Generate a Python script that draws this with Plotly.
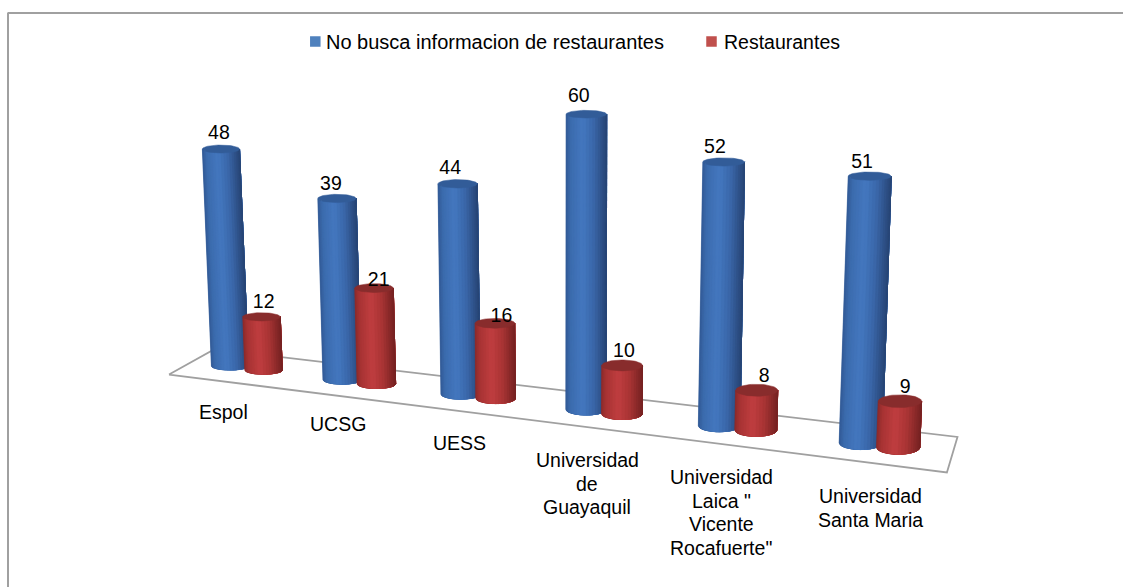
import numpy as np
import plotly.graph_objects as go

categories = ["Espol", "UCSG", "UESS", "Universidad<br>de<br>Guayaquil",
              "Universidad<br>Laica \"<br>Vicente<br>Rocafuerte\"", "Universidad<br>Santa Maria"]
no_busca = [48, 39, 44, 60, 52, 51]
restaurantes = [12, 21, 16, 10, 8, 9]
series_names = ["No busca informacion de restaurantes", "Restaurantes"]

# label nudges (screen units) - style only
BLUE_LABEL_OFF = [(-2, -14.5), (-6, -13.3), (-7.4, -14.2), (-7.5, -17.2), (-8.7, -13.5), (-7.7, -13.5)]
RED_LABEL_OFF = [(2.2, -13.6), (4.7, -7.2), (6.6, -6.3), (1.8, -13.1), (7.6, -13), (5.2, -12.7)]
CAT_LABEL_POS = [(223, 412), (338, 424), (459, 443), (587, 460), (721, 477), (870, 496)]
FONT = "Liberation Sans"
FS = 19.5
LINE_H = 23.5
BLUE_K = 4.52
RED_K = 4.4

# Perspective camera of the chart floor: s = position along category axis, h = depth term
C = -0.0271
def project(s, h, v, k=4.5):
    s, h, v = np.asarray(s, float), np.asarray(h, float), np.asarray(v, float)
    w = 1 + C*s + h
    X = (230 + 102.8*s + 1137*h)/w
    Y = (366 + 3.36*s - 166*h)/w
    lift = k*v/w
    return X + lift*(X-577)/8300, Y - lift, w

fig = go.Figure()

def poly(xs, ys, color):
    fig.add_trace(go.Scatter(x=xs, y=ys, mode="lines", fill="toself", fillcolor=color,
                             line=dict(color=color, width=0.5),
                             hoverinfo="skip", showlegend=False))

def mix(stops, u):
    pos = [p for p, _ in stops]
    cols = np.array([c for _, c in stops], float)
    return "rgb(%d,%d,%d)" % tuple(np.interp(u, pos, cols[:, k]) for k in range(3))

BLUE_STOPS = [(0, (50, 90, 150)), (0.12, (60, 108, 174)), (0.42, (68, 120, 192)), (0.7, (58, 102, 168)), (1, (40, 70, 118))]
RED_STOPS = [(0, (140, 42, 42)), (0.12, (168, 52, 52)), (0.42, (192, 62, 64)), (0.7, (168, 52, 52)), (1, (118, 34, 34))]
BLUE_TOP = (50, 92, 152)
RED_TOP = (136, 44, 44)

def cylinder(s, v, k, stops, top):
    bx, by, w = project(s, 0, 0, k)
    tx, ty, _ = project(s, 0, v, k)
    r = 18.6/w
    ry = 4 + 0.55*s
    ryt = ry - 0.03*v*s/3
    N = 20
    th = np.linspace(0, np.pi, N+1)
    for j in range(N):
        a = th[j:]
        xs = np.concatenate([bx - r*np.cos(a), tx - r*np.cos(a[::-1])])
        ys = np.concatenate([by + ry*np.sin(a), ty + ryt*np.sin(a[::-1])])
        poly(list(xs)+[xs[0]], list(ys)+[ys[0]], mix(stops, 0.5*(1-np.cos((th[j]+th[j+1])/2))))
    t = np.linspace(0, 2*np.pi, 60)
    poly(list(tx + r*np.cos(t)), list(ty + ryt*np.sin(t)), "rgb(%d,%d,%d)" % top)

# floor
fs = [-0.347, 5.617, 5.617, -0.347, -0.347]
fh = [-0.0245, -0.0245, 0.024, 0.024, -0.0245]
fx, fy, _ = project(fs, fh, 0)
fig.add_trace(go.Scatter(x=fx, y=fy, mode="lines", line=dict(color="#a0a0a0", width=1.8),
                         hoverinfo="skip", showlegend=False))

blue_s = [float(i) for i in range(len(categories))]
red_s = [0.305 + 0.99*i for i in range(len(categories))]
for i in range(len(categories)):
    cylinder(blue_s[i], no_busca[i], BLUE_K, BLUE_STOPS, BLUE_TOP)
    cylinder(red_s[i], restaurantes[i], RED_K, RED_STOPS, RED_TOP)

# data labels
def labels(ss, vals, offs, k):
    x, y, _ = project(ss, [0]*len(ss), vals, k)
    fig.add_trace(go.Scatter(x=x + np.array([o[0] for o in offs]), y=y + np.array([o[1] for o in offs]),
                             mode="text", text=[str(v) for v in vals], textposition="middle center",
                             textfont=dict(family=FONT, size=FS, color="#000"), hoverinfo="skip", showlegend=False))
labels(blue_s, no_busca, BLUE_LABEL_OFF, BLUE_K)
labels(red_s, restaurantes, RED_LABEL_OFF, RED_K)

# category labels
for name, (cx, cy) in zip(categories, CAT_LABEL_POS):
    for k, line in enumerate(name.split("<br>")):
        fig.add_annotation(x=cx, y=cy + k*LINE_H, text=line, showarrow=False, xanchor="center", yanchor="middle",
                           font=dict(family=FONT, size=FS, color="#000"))

# legend
fig.add_trace(go.Scatter(x=[315.3, 711.5], y=[41.5, 41.5], mode="markers",
                         marker=dict(symbol="square", size=10.5, color=["#4f81bd", "#c0504d"]),
                         hoverinfo="skip", showlegend=False))
for name, lx, sz in zip(series_names, [324, 721.5], [20, 19.5]):
    fig.add_annotation(x=lx, y=42, text=name, showarrow=False, xanchor="left", yanchor="middle",
                       font=dict(family=FONT, size=sz, color="#000"))

# frame: top and left rules only
fig.add_shape(type="line", x0=7.5, x1=1123, y0=13, y1=13, line=dict(color="#a0a0a0", width=2), layer="below")
fig.add_shape(type="line", x0=8, x1=8, y0=13, y1=587, line=dict(color="#a0a0a0", width=2), layer="below")

ax = dict(visible=False, showgrid=False, zeroline=False, fixedrange=True)
fig.update_layout(width=1123, height=587, margin=dict(l=0, r=0, t=0, b=0), paper_bgcolor="white", plot_bgcolor="white",
                  showlegend=False, font=dict(family=FONT),
                  xaxis=dict(ax, range=[0, 1123]), yaxis=dict(ax, range=[587, 0]))
fig.write_html("out.html", config=dict(displayModeBar=False),
               post_script="document.body.style.margin='0';document.body.style.overflow='hidden';")
